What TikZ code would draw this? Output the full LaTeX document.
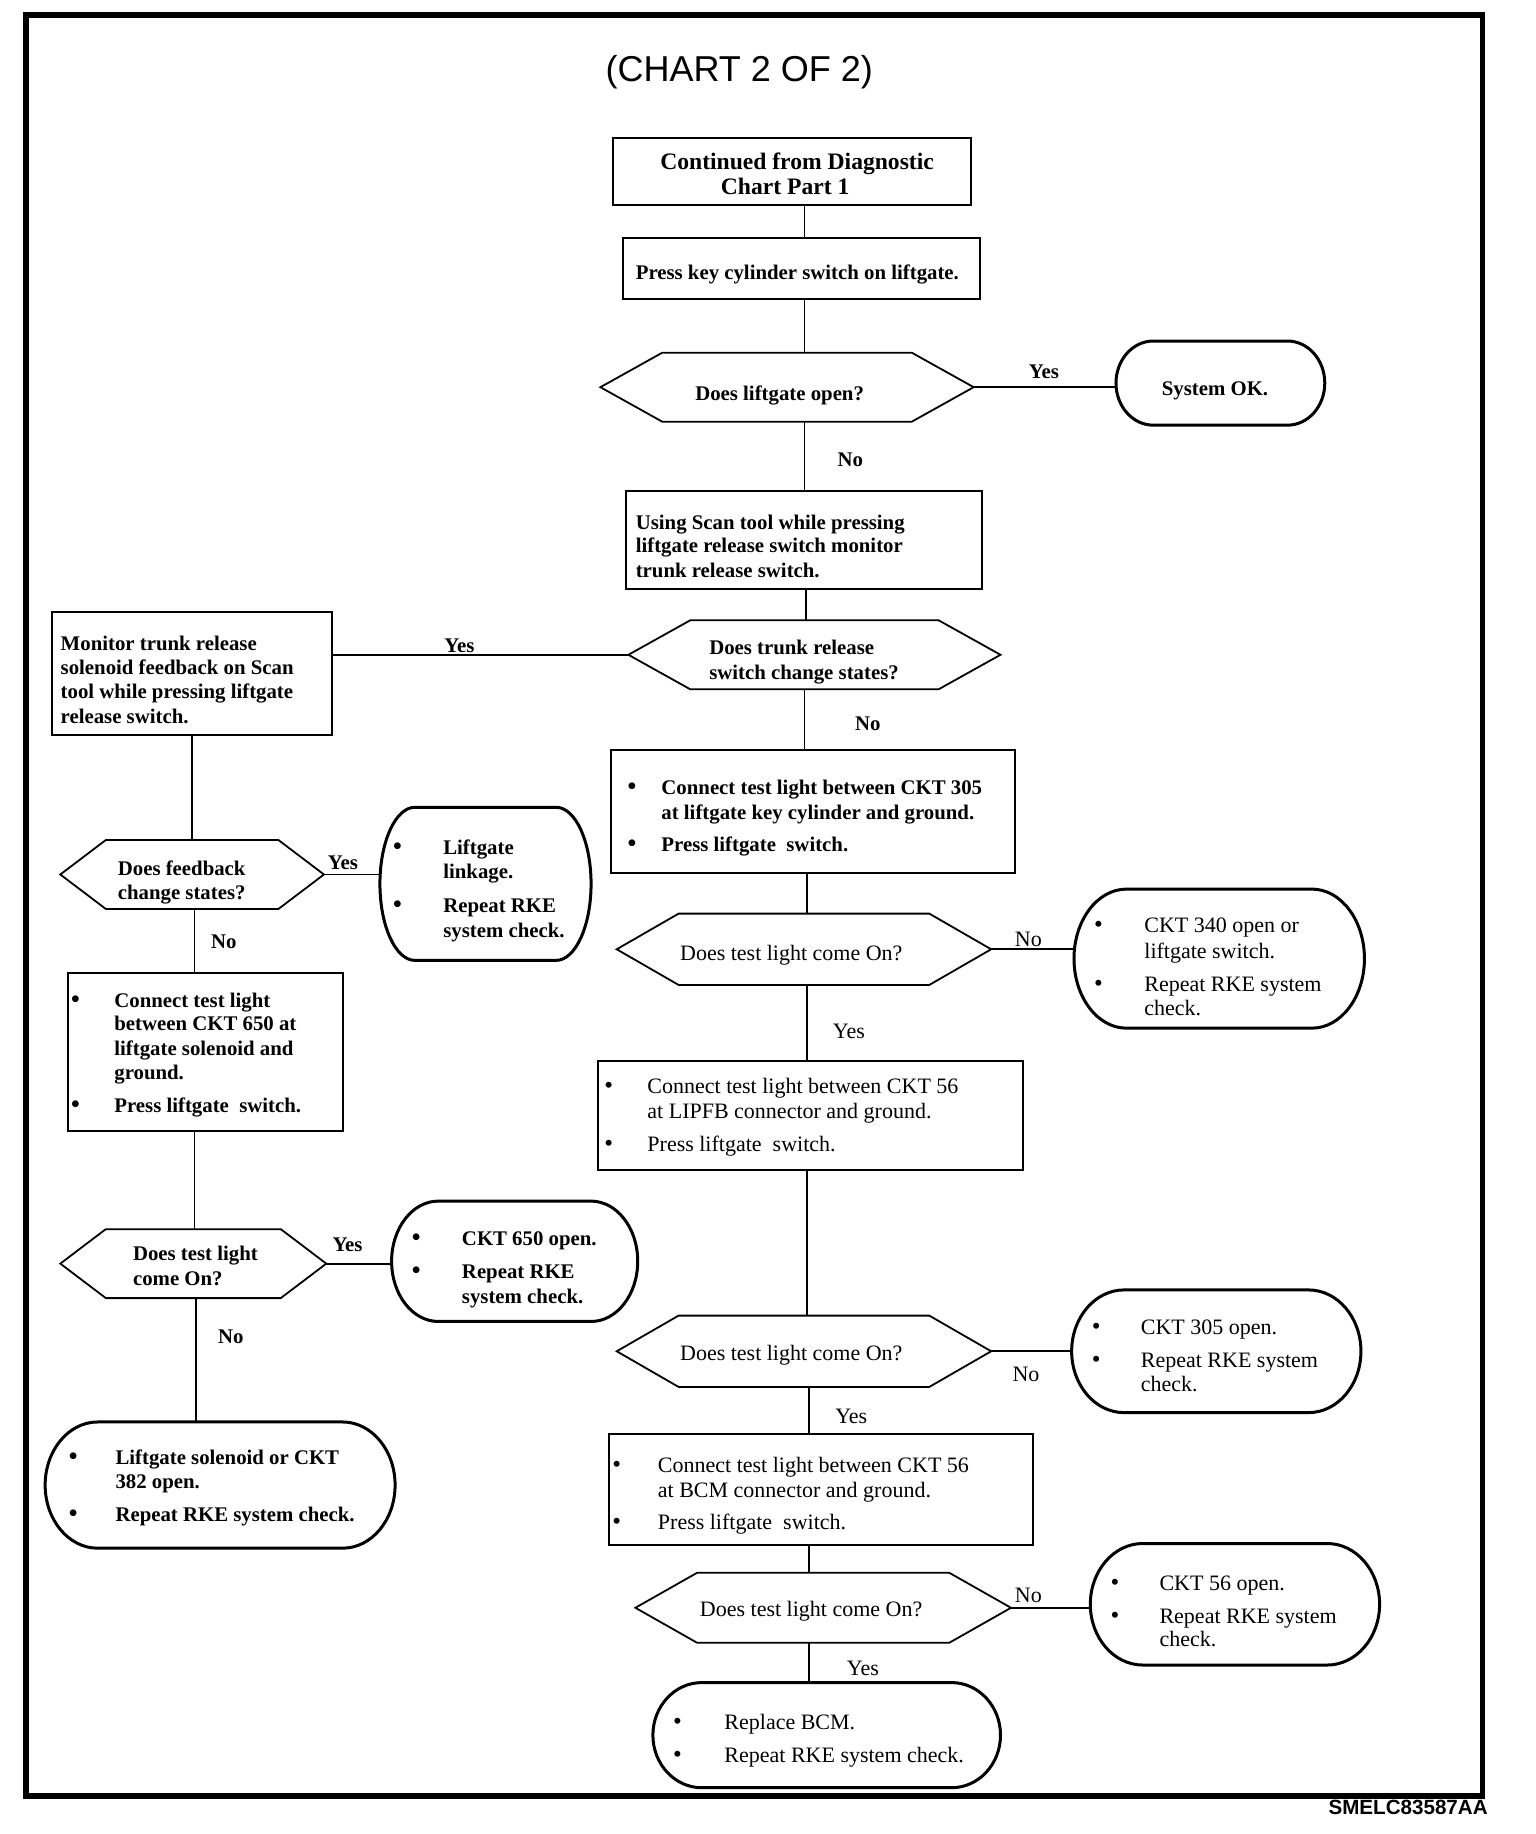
\documentclass[tikz,border=0pt]{standalone}
\usepackage{fontspec}
\setmainfont{Liberation Serif}
\newfontfamily\sansf{Liberation Sans}
\usetikzlibrary{fit,calc}
\newcounter{tc}
\newcommand\TL[3]{\stepcounter{tc}\node[#1] (tx\arabic{tc}) at (#2) {#3};}
\newcommand\boxnode[5]{\node[boxst, fit={(#2,#3) (#4,#5)}] (#1) {};}
\newcommand\hexnode[6]{%
  \node[frm, fit={(#2,#3) (#4,#5)}] (#1) {};
  \draw[hexst] (#1.west) -- ($(#1.north west)+(#6,0)$) -- ($(#1.north east)+(-#6,0)$) -- (#1.east)
     -- ($(#1.south east)+(-#6,0)$) -- ($(#1.south west)+(#6,0)$) -- cycle;}
\newcommand\termnode[6]{%
  \node[frm, fit={(#2,#3) (#4,#5)}] (#1) {};
  \pgfmathsetmacro\trmA{#2+#6}\pgfmathsetmacro\trmB{#4-#6}%
  \pgfmathsetmacro\trmM{(#3+#5)/2}\pgfmathsetmacro\trmK{0.5523*#6}%
  \pgfmathsetmacro\trmH{0.5523*(#5-#3)/2}%
  \draw[termst] (\trmA,#3) -- (\trmB,#3)
    .. controls ({\trmB+\trmK},#3) and (#4,{\trmM-\trmH}) .. (#4,\trmM)
    .. controls (#4,{\trmM+\trmH}) and ({\trmB+\trmK},#5) .. (\trmB,#5)
    -- (\trmA,#5)
    .. controls ({\trmA-\trmK},#5) and (#2,{\trmM+\trmH}) .. (#2,\trmM)
    .. controls (#2,{\trmM-\trmH}) and ({\trmA-\trmK},#3) .. cycle;}
\newcommand\bul{{\fontsize{12.5}{12}\selectfont\textbullet}}
\tikzset{
  frm/.style={inner sep=0pt, outer sep=0pt},
  boxst/.style={draw, line width=1pt, inner sep=0pt, outer sep=0pt},
  hexst/.style={draw, line width=0.9pt, line join=miter},
  termst/.style={draw, line width=1.5pt},
  conn/.style={draw, line width=0.9pt},
  bt/.style={font=\bfseries\fontsize{10.4}{12}\selectfont, inner sep=0pt, anchor=base west, yshift=-1.3pt},
  bth/.style={font=\bfseries\fontsize{11.8}{13}\selectfont, inner sep=0pt, anchor=base west, yshift=-1.3pt},
  rt/.style={font=\fontsize{11}{12}\selectfont, inner sep=0pt, anchor=base west, yshift=-1.3pt},
}
\begin{document}
\begin{tikzpicture}[x=0.58325pt, y=-0.5843pt]
\useasboundingbox (-1.71,0.17) rectangle (1315.0,1569.6);
% frame
\node[draw, line width=2.6pt, inner sep=0pt, fit={(20.5,13) (1269,1537)}] (frame) {};
\node[font=\sansf\fontsize{18}{20}\selectfont, inner sep=0pt, anchor=base] (title) at (632,70) {(CHART 2 OF 2)};
\node[font=\sansf\bfseries\fontsize{10.3}{12}\selectfont, inner sep=0pt, anchor=base east] (code) at (1274,1553) {SMELC83587AA};

% shapes
\boxnode{cont}{524}{118}{831}{176}
\boxnode{press}{532}{204}{838}{256}
\hexnode{hexa}{513}{302}{833}{361}{53}
\termnode{sysok}{955}{292}{1134}{364}{32}
\boxnode{using}{535}{420}{840}{504}
\hexnode{hexb}{537}{531}{856}{590}{53}
\boxnode{monitor}{43}{524}{283}{629}
\boxnode{ckta}{522}{642}{868}{747}
\hexnode{hexc}{527}{782}{848}{843}{53}
\termnode{cktb}{919}{761}{1168}{880}{45}
\boxnode{lipfb}{511}{908}{875}{1001}
\hexnode{hexd}{527}{1126}{848}{1187}{53}
\termnode{cktc}{917}{1104}{1165}{1209}{45}
\boxnode{bcm}{520}{1227}{884}{1322}
\hexnode{hexe}{543}{1346}{865}{1406}{53}
\termnode{cktd}{933}{1321}{1181}{1425}{45}
\termnode{bcmrep}{558}{1440}{856}{1530}{42}
\hexnode{hexf}{50}{719}{276}{778}{39}
\termnode{linkage}{324}{691}{505}{822}{30}
\boxnode{ckte}{57}{833}{292}{968}
\hexnode{hexg}{50}{1052}{278}{1111}{39}
\termnode{cktf}{334}{1028}{545}{1131}{40}
\termnode{sol}{37}{1217}{337}{1325}{45}

% connectors
\draw[conn] (cont.south -| 688,0) -- (press.north -| 688,0);
\draw[conn] (press.south -| 688,0) -- (hexa.north -| 688,0);
\draw[conn] (hexa.south -| 688,0) -- (using.north -| 688,0);
\draw[conn] (using.south -| 689,0) -- (hexb.north -| 689,0);
\draw[conn] (hexb.south -| 688,0) -- (ckta.north -| 688,0);
\draw[conn] (ckta.south -| 690,0) -- (hexc.north -| 690,0);
\draw[conn] (hexc.south -| 690,0) -- (lipfb.north -| 690,0);
\draw[conn] (lipfb.south -| 690,0) -- (hexd.north -| 690,0);
\draw[conn] (hexd.south -| 692,0) -- (bcm.north -| 692,0);
\draw[conn] (bcm.south -| 692,0) -- (hexe.north -| 692,0);
\draw[conn] (hexe.south -| 692,0) -- (bcmrep.north -| 692,0);
\draw[conn] (monitor.south -| 163,0) -- (hexf.north -| 163,0);
\draw[conn] (hexf.south -| 165,0) -- (ckte.north -| 165,0);
\draw[conn] (ckte.south -| 165,0) -- (hexg.north -| 165,0);
\draw[conn] (hexg.south -| 166,0) -- (sol.north -| 166,0);
\draw[conn] (hexa.east) -- (hexa.east -| sysok.west);
\draw[conn] (hexb.west) -- (hexb.west -| monitor.east);
\draw[conn] (hexc.east) -- (hexc.east -| cktb.west);
\draw[conn] (hexd.east) -- (hexd.east -| cktc.west);
\draw[conn] (hexe.east) -- (hexe.east -| cktd.west);
\draw[conn] (hexf.east) -- (hexf.east -| linkage.west);
\draw[conn] (hexg.east) -- (hexg.east -| cktf.west);

% texts
\TL{bth}{564,143}{Continued from Diagnostic}
\TL{bth}{616,164}{Chart Part 1}
\TL{bt}{543,237}{Press key cylinder switch on liftgate.}
\TL{bt}{594,341}{Does liftgate open?}
\TL{bt}{994,336}{System OK.}
\TL{bt}{880,322}{Yes}
\TL{bt}{716,397}{No}
\TL{bt}{543,451}{Using Scan tool while pressing}
\TL{bt}{543,471}{liftgate release switch monitor}
\TL{bt}{543,492}{trunk release switch.}
\TL{bt}{606,558}{Does trunk release}
\TL{bt}{606,579}{switch change states?}
\TL{bt}{50,555}{Monitor trunk release}
\TL{bt}{50,575}{solenoid feedback on Scan}
\TL{bt}{50,596}{tool while pressing liftgate}
\TL{bt}{50,617}{release switch.}
\TL{bt}{379,556}{Yes}
\TL{bt}{731,623}{No}
\TL{bt}{536,678}{\bul}
\TL{bt}{565,678}{Connect test light between CKT 305}
\TL{bt}{565,699}{at liftgate key cylinder and ground.}
\TL{bt}{536,727}{\bul}
\TL{bt}{565,727}{Press liftgate~ switch.}
\TL{rt}{581,820}{Does test light come On?}
\TL{rt}{936,796}{\bul}
\TL{rt}{979,796}{CKT 340 open or}
\TL{rt}{979,818}{liftgate switch.}
\TL{rt}{936,846}{\bul}
\TL{rt}{979,846}{Repeat RKE system}
\TL{rt}{979,867}{check.}
\TL{rt}{868,808}{No}
\TL{rt}{712,887}{Yes}
\TL{rt}{516,934}{\bul}
\TL{rt}{553,934}{Connect test light between CKT 56}
\TL{rt}{553,955}{at LIPFB connector and ground.}
\TL{rt}{516,983}{\bul}
\TL{rt}{553,983}{Press liftgate~ switch.}
\TL{rt}{581,1162}{Does test light come On?}
\TL{rt}{934,1140}{\bul}
\TL{rt}{976,1140}{CKT 305 open.}
\TL{rt}{934,1168}{\bul}
\TL{rt}{976,1168}{Repeat RKE system}
\TL{rt}{976,1189}{check.}
\TL{rt}{866,1180}{No}
\TL{rt}{714,1216}{Yes}
\TL{rt}{523,1258}{\bul}
\TL{rt}{562,1258}{Connect test light between CKT 56}
\TL{rt}{562,1279}{at BCM connector and ground.}
\TL{rt}{523,1307}{\bul}
\TL{rt}{562,1307}{Press liftgate~ switch.}
\TL{rt}{598,1381}{Does test light come On?}
\TL{rt}{950,1359}{\bul}
\TL{rt}{992,1359}{CKT 56 open.}
\TL{rt}{950,1387}{\bul}
\TL{rt}{992,1387}{Repeat RKE system}
\TL{rt}{992,1407}{check.}
\TL{rt}{868,1369}{No}
\TL{rt}{724,1432}{Yes}
\TL{rt}{575,1478}{\bul}
\TL{rt}{619,1478}{Replace BCM.}
\TL{rt}{575,1506}{\bul}
\TL{rt}{619,1506}{Repeat RKE system check.}
\TL{bt}{99,747}{Does feedback}
\TL{bt}{99,768}{change states?}
\TL{bt}{335,729}{\bul}
\TL{bt}{378,729}{Liftgate}
\TL{bt}{378,750}{linkage.}
\TL{bt}{335,779}{\bul}
\TL{bt}{378,779}{Repeat RKE}
\TL{bt}{378,800}{system check.}
\TL{bt}{279,742}{Yes}
\TL{bt}{179,810}{No}
\TL{bt}{59,860}{\bul}
\TL{bt}{96,860}{Connect test light}
\TL{bt}{96,880}{between CKT 650 at}
\TL{bt}{96,901}{liftgate solenoid and}
\TL{bt}{96,922}{ground.}
\TL{bt}{59,950}{\bul}
\TL{bt}{96,950}{Press liftgate~ switch.}
\TL{bt}{112,1077}{Does test light}
\TL{bt}{112,1098}{come On?}
\TL{bt}{351,1064}{\bul}
\TL{bt}{394,1064}{CKT 650 open.}
\TL{bt}{351,1092}{\bul}
\TL{bt}{394,1092}{Repeat RKE}
\TL{bt}{394,1113}{system check.}
\TL{bt}{283,1069}{Yes}
\TL{bt}{185,1148}{No}
\TL{bt}{57,1251}{\bul}
\TL{bt}{97,1251}{Liftgate solenoid or CKT}
\TL{bt}{97,1272}{382 open.}
\TL{bt}{57,1300}{\bul}
\TL{bt}{97,1300}{Repeat RKE system check.}
\end{tikzpicture}
\end{document}
